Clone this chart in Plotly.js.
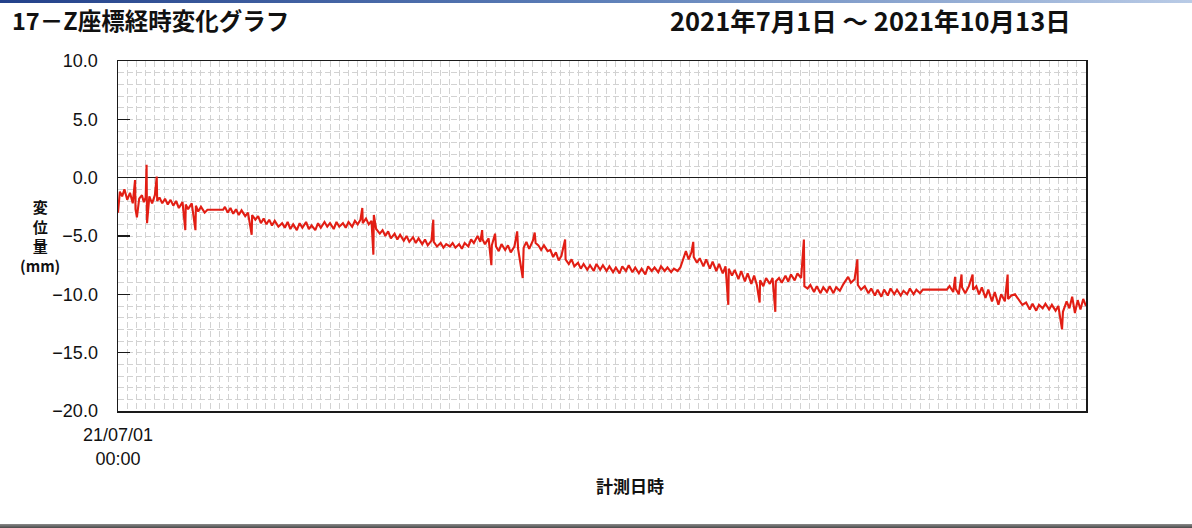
<!DOCTYPE html>
<html>
<head>
<meta charset="utf-8">
<script src="https://cdn.plot.ly/plotly-3.0.1.min.js"></script>
<style>
  body { margin: 0; background: #fff; }
  #chart { position: absolute; left: 0; top: 0; width: 1192px; height: 528px; }
  .topbar { position: absolute; left: 0; top: 0; width: 1192px; height: 3px;
            background: linear-gradient(90deg, #23418a 0%, #5d7fb8 50%, #b9cbe6 100%); z-index: 5; }
  .botbar { position: absolute; left: 0; top: 524px; width: 1192px; height: 4px;
            background: linear-gradient(180deg, #8a8a8a, #4a4a4a); z-index: 5; }
</style>
</head>
<body>
<div id="chart"></div>
<div class="topbar"></div>
<div class="botbar"></div>
<script>
// ---- data ----
const startDate = '2021-07-01';
const endDate = '2021-10-14';
const chartTitle = '17－Z座標経時変化グラフ';
const periodText = '2021年7月1日&nbsp;～&nbsp;2021年10月13日';
const xTickLabels = ['21/07/01<br>00:00'];
const yTickVals = [10, 5, 0, -5, -10, -15, -20];
const yTickText = ['10.0', '5.0', '0.0', '−5.0', '−10.0', '−15.0', '−20.0'];

// elapsed days from 2021-07-01 00:00
const dayOffset = [
  0, 0.2, 0.45, 0.7, 1.0, 1.3, 1.6, 1.85, 1.9, 2.05,
  2.3, 2.6, 2.8, 3.0, 3.1, 3.15, 3.4, 3.7, 4.0, 4.2,
  4.25, 4.5, 4.8, 5.1, 5.4, 5.7, 6.0, 6.3, 6.6, 7.0,
  7.3, 7.35, 7.6, 8.0, 8.4, 8.45, 8.7, 9.0, 9.4, 9.7,
  11.4, 11.6, 11.9, 12.2, 12.5, 12.8, 13.1, 13.4, 13.8, 14.1,
  14.5, 14.55, 14.9, 15.2, 15.5, 15.8, 16.1, 16.4, 16.7, 17.0,
  17.4, 17.8, 18.1, 18.4, 18.7, 19.0, 19.4, 19.7, 20.0, 20.4,
  20.7, 21.0, 21.4, 21.7, 22.0, 22.4, 22.7, 23.0, 23.4, 23.7,
  24.0, 24.4, 24.7, 25.0, 25.4, 25.7, 26.0, 26.3, 26.5, 26.55,
  26.9, 27.2, 27.5, 27.7, 27.75, 28.0, 28.4, 28.7, 29.0, 29.3,
  29.6, 30.0, 30.3, 30.6, 31.0, 31.3, 31.6, 32.0, 32.3, 32.6,
  33.0, 33.3, 33.6, 34.0, 34.2, 34.25, 34.6, 35.0, 35.3, 35.6,
  36.0, 36.3, 36.6, 37.0, 37.3, 37.6, 38.0, 38.3, 38.6, 39.0,
  39.3, 39.5, 39.55, 39.8, 40.2, 40.5, 40.55, 40.9, 41.0, 41.3,
  41.6, 42.0, 42.3, 42.6, 43.0, 43.3, 43.4, 43.9, 44.0, 44.3,
  44.6, 45.0, 45.2, 45.3, 45.6, 45.9, 46.2, 46.6, 46.9, 47.2,
  47.5, 47.8, 48.1, 48.5, 48.55, 48.9, 49.2, 49.5, 49.9, 50.2,
  50.5, 50.9, 51.2, 51.6, 51.9, 52.3, 52.6, 53.0, 53.3, 53.7,
  54.0, 54.4, 54.7, 55.1, 55.4, 55.8, 56.1, 56.5, 56.8, 57.2,
  57.5, 57.9, 58.2, 58.6, 58.9, 59.3, 59.6, 60.0, 60.3, 60.7,
  61.0, 61.3, 61.6, 61.9, 62.2, 62.4, 62.45, 62.8, 63.1, 63.5,
  63.8, 64.2, 64.5, 64.9, 65.2, 65.6, 65.9, 66.2, 66.25, 66.6,
  66.9, 67.3, 67.6, 68.0, 68.3, 68.7, 69.0, 69.3, 69.6, 69.65,
  70.0, 70.3, 70.7, 71.0, 71.3, 71.35, 71.7, 72.0, 72.4, 72.7,
  73.0, 73.4, 73.7, 74.1, 74.4, 74.45, 74.8, 75.1, 75.5, 75.8,
  76.2, 76.5, 76.9, 77.2, 77.6, 77.9, 78.3, 78.7, 79.2, 79.5,
  79.9, 80.2, 80.25, 80.6, 81.0, 81.4, 81.7, 82.1, 82.4, 82.8,
  83.1, 83.5, 83.8, 84.2, 84.5, 84.9, 85.2, 85.6, 85.9, 86.3,
  86.6, 87.0, 87.3, 87.7, 89.9, 90.2, 90.6, 90.8, 90.85, 91.2,
  91.5, 91.55, 91.9, 92.3, 92.7, 92.75, 93.1, 93.4, 93.7, 94.1,
  94.4, 94.8, 95.1, 95.5, 95.8, 96.2, 96.5, 96.55, 96.9, 97.3,
  97.7, 98.1, 98.5, 98.9, 99.2, 99.6, 99.9, 100.3, 100.6, 101.0,
  101.3, 101.7, 102.0, 102.4, 102.5, 102.9, 103.2, 103.5, 103.8, 104.1,
  104.4, 104.7, 105.0
];

// Z displacement (mm)
const dispZ = [
  -3.0, -1.2, -1.6, -1.0, -1.9, -1.3, -2.2, -0.2, -2.7, -3.4,
  -1.8, -1.5, -2.1, -1.7, 1.1, -3.9, -1.6, -2.2, -1.5, 0.1,
  -2.0, -1.7, -2.2, -1.8, -2.3, -1.9, -2.4, -2.0, -2.6, -2.1,
  -4.5, -2.3, -2.7, -2.2, -4.5, -2.4, -2.9, -2.5, -3.0, -2.75,
  -2.75, -2.5, -3.0, -2.6, -3.1, -2.7, -3.2, -2.8, -3.3, -3.0,
  -4.9, -3.2, -3.6, -3.3, -3.9, -3.5, -4.0, -3.6, -4.1, -3.7,
  -4.2, -3.9, -4.3, -3.8, -4.4, -4.0, -4.5, -3.9, -4.3, -3.8,
  -4.4, -4.1, -4.5, -3.9, -4.3, -3.8, -4.2, -3.9, -4.4, -3.8,
  -4.2, -3.9, -4.3, -3.8, -4.2, -3.7, -4.0, -3.6, -2.6, -3.9,
  -3.5, -4.0, -3.7, -6.6, -3.2, -4.4, -4.8, -4.5, -5.0, -4.6,
  -5.2, -4.8, -5.3, -4.9, -5.4, -5.0, -5.5, -5.1, -5.6, -5.2,
  -5.7, -5.3, -5.8, -5.4, -3.6, -5.5, -5.9, -5.6, -6.0, -5.7,
  -5.9, -5.6, -6.0, -5.7, -6.1, -5.6, -5.9, -5.3, -5.6, -5.0,
  -5.5, -4.5, -5.3, -5.7, -5.2, -7.5, -5.8, -4.8, -5.9, -6.3,
  -5.7, -6.2, -5.8, -6.4, -5.9, -4.6, -6.1, -8.6, -6.0, -5.5,
  -6.1, -5.4, -4.7, -5.6, -5.8, -6.2, -5.8, -6.3, -6.2, -6.8,
  -6.4, -7.1, -6.7, -5.3, -7.0, -7.4, -7.0, -7.6, -7.3, -7.8,
  -7.4, -7.9, -7.5, -8.0, -7.4, -7.9, -7.5, -8.0, -7.6, -8.1,
  -7.7, -8.2, -7.6, -8.0, -7.5, -8.1, -7.7, -8.2, -7.8, -8.3,
  -7.6, -8.0, -7.7, -8.1, -7.6, -8.0, -7.7, -8.1, -7.8, -8.0,
  -7.7, -7.0, -6.3, -7.0, -6.4, -5.5, -6.8, -7.3, -6.9, -7.6,
  -7.0, -7.8, -7.2, -8.0, -7.4, -8.2, -7.6, -10.9, -7.8, -8.4,
  -7.9, -8.7, -8.0, -8.9, -8.2, -9.1, -8.4, -9.2, -10.7, -8.8,
  -9.3, -8.6, -9.1, -8.6, -11.5, -8.9, -8.6, -9.0, -8.4, -8.9,
  -8.3, -8.8, -8.2, -8.6, -5.3, -9.3, -9.5, -9.2, -9.8, -9.3,
  -9.9, -9.4, -9.8, -9.3, -9.9, -9.4, -9.7, -9.1, -8.5, -9.0,
  -8.7, -7.0, -9.2, -9.6, -9.3, -9.9, -9.5, -10.1, -9.6, -10.2,
  -9.6, -10.1, -9.5, -10.0, -9.6, -10.1, -9.7, -10.0, -9.5, -10.0,
  -9.6, -9.9, -9.6, -9.6, -9.6, -9.3, -9.8, -8.5, -9.5, -10.0,
  -8.3, -9.4, -9.9, -9.3, -8.3, -9.6, -9.3, -10.0, -9.4, -10.3,
  -9.6, -10.6, -9.8, -10.9, -10.0, -10.6, -8.3, -10.4, -10.1, -10.0,
  -10.4, -10.9, -10.7, -11.3, -10.8, -11.4, -10.9, -11.2, -10.8, -11.3,
  -10.9, -11.4, -11.0, -13.0, -11.5, -10.6, -11.2, -10.2, -11.6, -10.5,
  -11.3, -10.4, -11.0
];

// ---- convert elapsed days to timestamps ----
const base = Date.UTC(2021, 6, 1);
const times = dayOffset.map(d => new Date(base + d * 86400000).toISOString().slice(0, 19).replace('T', ' '));

const jp = '"Noto Sans CJK JP", "Noto Sans", sans-serif';
const num = '"Liberation Sans", Arial, sans-serif';
const gridCol = '#d2d2d2';

const trace = {
  type: 'scatter', mode: 'lines', x: times, y: dispZ,
  line: { color: 'rgb(226,30,20)', width: 2.1 },
  hoverinfo: 'skip'
};

const layout = {
  width: 1192, height: 528,
  margin: { l: 118, r: 106, t: 61, b: 117 },
  paper_bgcolor: '#ffffff', plot_bgcolor: '#ffffff',
  showlegend: false,
  xaxis: {
    type: 'date', range: [startDate, endDate],
    showline: true, mirror: true, linecolor: '#1a1a1a', linewidth: 1.5,
    tickmode: 'array', tickvals: [startDate], ticktext: xTickLabels,
    ticks: '', showgrid: false, zeroline: false,
    ticklabelstandoff: 7,
    tickfont: { family: num, size: 18, color: '#111' },
    minor: { dtick: 86400000, tick0: startDate, showgrid: true, gridcolor: gridCol, griddash: '6px,3px', gridwidth: 1, ticks: '' }
  },
  yaxis: {
    range: [-20, 10], tickmode: 'array', tickvals: yTickVals, ticktext: yTickText,
    showline: true, mirror: true, linecolor: '#1a1a1a', linewidth: 1.5,
    ticks: 'inside', ticklen: 12, tickwidth: 1.5, tickcolor: '#1a1a1a',
    ticklabelstandoff: 15,
    showgrid: true, gridcolor: gridCol, griddash: '6px,3px', gridwidth: 1,
    zeroline: true, zerolinecolor: '#1a1a1a', zerolinewidth: 1.2,
    tickfont: { family: num, size: 18, color: '#111' },
    minor: { dtick: 1, showgrid: true, gridcolor: gridCol, griddash: '6px,3px', gridwidth: 1, ticks: '' }
  },
  annotations: [
    { text: chartTitle, xref: 'paper', yref: 'paper', x: (10 - 118) / 968, y: (411 - 20) / 350,
      xanchor: 'left', yanchor: 'middle', showarrow: false,
      font: { family: jp, size: 23.5, color: '#111', weight: 'bold' } },
    { text: periodText, xref: 'paper', yref: 'paper', x: (668 - 118) / 968, y: (411 - 20) / 350,
      xanchor: 'left', yanchor: 'middle', showarrow: false,
      font: { family: jp, size: 25.5, color: '#111', weight: 'bold' } },
    { text: '変<br>位<br>量<br>(mm)', xref: 'paper', yref: 'paper', x: (40 - 118) / 968, y: (411 - 236) / 350,
      xanchor: 'center', yanchor: 'middle', showarrow: false, align: 'center',
      font: { family: jp, size: 15, color: '#111', weight: 'bold' } },
    { text: '計測日時', xref: 'paper', yref: 'paper', x: (630 - 118) / 968, y: (411 - 485) / 350,
      xanchor: 'center', yanchor: 'middle', showarrow: false,
      font: { family: jp, size: 17, color: '#111', weight: 'bold' } }
  ]
};

Plotly.newPlot('chart', [trace], layout, { staticPlot: true, displayModeBar: false });
</script>
</body>
</html>
